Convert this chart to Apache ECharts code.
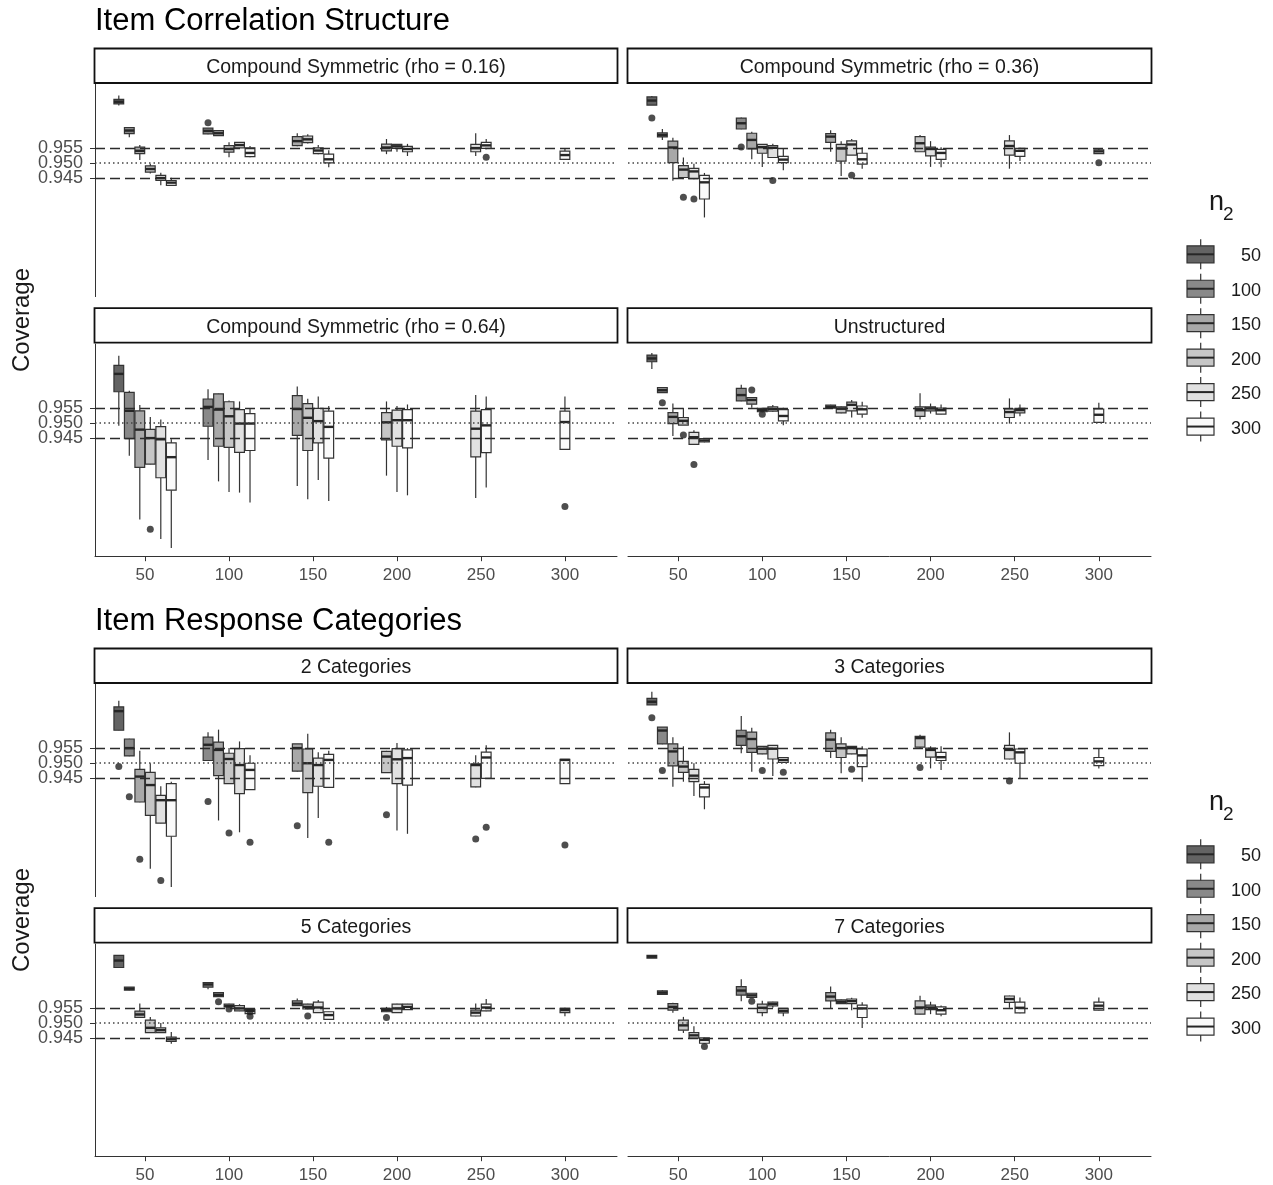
<!DOCTYPE html>
<html>
<head>
<meta charset="utf-8">
<title>Coverage</title>
<script src="https://cdn.jsdelivr.net/npm/echarts@6/dist/echarts.min.js"></script>
<style>
  body { margin: 0; background: #fff; }
  #chart { width: 1273px; height: 1185px; }
</style>
</head>
<body>
<div id="chart"></div>
<script>
//--------------------- Data ---------------------------//
const n1Levels = [50, 100, 150, 200, 250, 300];
const n2Levels = [50, 100, 150, 200, 250, 300];
const yTicksOuter = [0.945, 0.955];
const yTicksMid = [0.950];
const refDashed = [0.945, 0.955];
const refDotted = [0.950];
const figTitles = ['Item Correlation Structure', 'Item Response Categories'];

// rows: [n1, n2, min, q1, median, q3, max]
const boxesCS16 = [
  [50, 50, 0.9691, 0.9696, 0.9703, 0.9711, 0.9724], [50, 100, 0.9586, 0.9598, 0.9608, 0.9618, 0.9618],
  [50, 150, 0.9511, 0.9532, 0.9541, 0.9553, 0.9560], [50, 200, 0.9466, 0.9471, 0.9481, 0.9491, 0.9498],
  [50, 250, 0.9427, 0.9443, 0.9451, 0.9460, 0.9469], [50, 300, 0.9426, 0.9427, 0.9436, 0.9443, 0.9452],
  [100, 100, 0.9596, 0.9597, 0.9607, 0.9616, 0.9616], [100, 150, 0.9590, 0.9591, 0.9599, 0.9608, 0.9609],
  [100, 200, 0.9520, 0.9537, 0.9547, 0.9558, 0.9569], [100, 250, 0.9550, 0.9551, 0.9560, 0.9569, 0.9570],
  [100, 300, 0.9520, 0.9522, 0.9534, 0.9551, 0.9557],
  [150, 150, 0.9556, 0.9558, 0.9573, 0.9588, 0.9599], [150, 200, 0.9565, 0.9568, 0.9579, 0.9590, 0.9596],
  [150, 250, 0.9530, 0.9532, 0.9542, 0.9551, 0.9560], [150, 300, 0.9487, 0.9501, 0.9513, 0.9530, 0.9543],
  [200, 200, 0.9530, 0.9541, 0.9552, 0.9563, 0.9580], [200, 250, 0.9538, 0.9549, 0.9556, 0.9562, 0.9563],
  [200, 300, 0.9524, 0.9538, 0.9547, 0.9556, 0.9564],
  [250, 250, 0.9524, 0.9538, 0.9550, 0.9562, 0.9599], [250, 300, 0.9546, 0.9549, 0.9559, 0.9569, 0.9580],
  [300, 300, 0.9512, 0.9513, 0.9527, 0.9540, 0.9550]
];
const outCS16 = [[100, 100, 0.9634], [250, 300, 0.9520]];

const boxesCS36 = [
  [50, 50, 0.9692, 0.9692, 0.9707, 0.9719, 0.9722], [50, 100, 0.9577, 0.9587, 0.9593, 0.9600, 0.9613],
  [50, 150, 0.9442, 0.9502, 0.9552, 0.9573, 0.9584], [50, 200, 0.9447, 0.9453, 0.9479, 0.9492, 0.9519],
  [50, 250, 0.9447, 0.9449, 0.9473, 0.9483, 0.9498], [50, 300, 0.9321, 0.9382, 0.9437, 0.9460, 0.9468],
  [100, 100, 0.9612, 0.9613, 0.9632, 0.9649, 0.9651], [100, 150, 0.9513, 0.9547, 0.9577, 0.9599, 0.9604],
  [100, 200, 0.9488, 0.9533, 0.9553, 0.9562, 0.9563], [100, 250, 0.9517, 0.9519, 0.9551, 0.9558, 0.9564],
  [100, 300, 0.9477, 0.9502, 0.9512, 0.9523, 0.9549],
  [150, 150, 0.9538, 0.9569, 0.9588, 0.9598, 0.9609], [150, 200, 0.9458, 0.9507, 0.9549, 0.9562, 0.9573],
  [150, 250, 0.9527, 0.9527, 0.9562, 0.9574, 0.9580], [150, 300, 0.9482, 0.9497, 0.9513, 0.9533, 0.9553],
  [200, 200, 0.9537, 0.9538, 0.9566, 0.9588, 0.9593], [200, 250, 0.9488, 0.9524, 0.9547, 0.9553, 0.9573],
  [200, 300, 0.9487, 0.9513, 0.9534, 0.9546, 0.9553],
  [250, 250, 0.9482, 0.9527, 0.9557, 0.9574, 0.9593], [250, 300, 0.9507, 0.9523, 0.9541, 0.9549, 0.9551],
  [300, 300, 0.9531, 0.9532, 0.9539, 0.9544, 0.9549]
];
const outCS36 = [[50, 50, 0.9649], [50, 200, 0.9388], [50, 250, 0.9382], [100, 100, 0.9554],
  [100, 250, 0.9443], [150, 250, 0.9460], [300, 300, 0.9502]];

const boxesCS64 = [
  [50, 50, 0.9491, 0.9603, 0.9662, 0.9690, 0.9722], [50, 100, 0.9392, 0.9448, 0.9540, 0.9601, 0.9606],
  [50, 150, 0.9181, 0.9353, 0.9478, 0.9540, 0.9559], [50, 200, 0.9363, 0.9364, 0.9450, 0.9479, 0.9520],
  [50, 250, 0.9117, 0.9319, 0.9446, 0.9488, 0.9511], [50, 300, 0.9087, 0.9278, 0.9387, 0.9434, 0.9446],
  [100, 100, 0.9378, 0.9489, 0.9553, 0.9579, 0.9611], [100, 150, 0.9307, 0.9423, 0.9544, 0.9596, 0.9597],
  [100, 200, 0.9272, 0.9419, 0.9522, 0.9570, 0.9574], [100, 250, 0.9270, 0.9403, 0.9498, 0.9544, 0.9571],
  [100, 300, 0.9237, 0.9409, 0.9498, 0.9531, 0.9549],
  [150, 150, 0.9292, 0.9459, 0.9546, 0.9590, 0.9620], [150, 200, 0.9248, 0.9409, 0.9517, 0.9564, 0.9580],
  [150, 250, 0.9312, 0.9434, 0.9506, 0.9548, 0.9587], [150, 300, 0.9242, 0.9384, 0.9487, 0.9539, 0.9556],
  [200, 200, 0.9326, 0.9444, 0.9502, 0.9534, 0.9571], [200, 250, 0.9272, 0.9423, 0.9509, 0.9542, 0.9556],
  [200, 300, 0.9261, 0.9418, 0.9509, 0.9544, 0.9561],
  [250, 250, 0.9252, 0.9388, 0.9481, 0.9539, 0.9592], [250, 300, 0.9287, 0.9402, 0.9492, 0.9544, 0.9587],
  [300, 300, 0.9412, 0.9413, 0.9503, 0.9539, 0.9587]
];
const outCS64 = [[50, 200, 0.9149], [300, 300, 0.9224]];

const boxesUN = [
  [50, 50, 0.9678, 0.9702, 0.9713, 0.9724, 0.9731], [50, 100, 0.9599, 0.9600, 0.9608, 0.9617, 0.9617],
  [50, 150, 0.9457, 0.9498, 0.9520, 0.9534, 0.9564], [50, 200, 0.9493, 0.9493, 0.9507, 0.9518, 0.9550],
  [50, 250, 0.9428, 0.9429, 0.9453, 0.9469, 0.9476], [50, 300, 0.9436, 0.9437, 0.9442, 0.9448, 0.9449],
  [100, 100, 0.9572, 0.9573, 0.9592, 0.9614, 0.9626], [100, 150, 0.9550, 0.9562, 0.9576, 0.9584, 0.9585],
  [100, 200, 0.9535, 0.9537, 0.9542, 0.9548, 0.9550], [100, 250, 0.9536, 0.9539, 0.9546, 0.9553, 0.9559],
  [100, 300, 0.9492, 0.9507, 0.9523, 0.9544, 0.9550],
  [150, 150, 0.9548, 0.9549, 0.9553, 0.9559, 0.9560], [150, 200, 0.9532, 0.9533, 0.9547, 0.9553, 0.9554],
  [150, 250, 0.9518, 0.9540, 0.9560, 0.9569, 0.9576], [150, 300, 0.9517, 0.9529, 0.9545, 0.9556, 0.9570],
  [200, 200, 0.9511, 0.9522, 0.9542, 0.9553, 0.9598], [200, 250, 0.9531, 0.9540, 0.9548, 0.9553, 0.9564],
  [200, 300, 0.9528, 0.9529, 0.9542, 0.9549, 0.9561],
  [250, 250, 0.9498, 0.9518, 0.9536, 0.9546, 0.9581], [250, 300, 0.9522, 0.9533, 0.9542, 0.9548, 0.9561],
  [300, 300, 0.9501, 0.9502, 0.9527, 0.9546, 0.9567]
];
const outUN = [[50, 100, 0.9567], [50, 200, 0.9460], [50, 250, 0.9363], [100, 150, 0.9609], [100, 200, 0.9529]];

const boxesCat2 = [
  [50, 50, 0.9608, 0.9609, 0.9672, 0.9686, 0.9706], [50, 100, 0.9523, 0.9524, 0.9550, 0.9580, 0.9581],
  [50, 150, 0.9371, 0.9372, 0.9456, 0.9480, 0.9541], [50, 200, 0.9152, 0.9328, 0.9428, 0.9470, 0.9500],
  [50, 250, 0.9301, 0.9302, 0.9378, 0.9394, 0.9424], [50, 300, 0.9091, 0.9259, 0.9378, 0.9433, 0.9439],
  [100, 100, 0.9508, 0.9509, 0.9561, 0.9586, 0.9602], [100, 150, 0.9311, 0.9459, 0.9544, 0.9570, 0.9611],
  [100, 200, 0.9432, 0.9433, 0.9514, 0.9533, 0.9550], [100, 250, 0.9272, 0.9400, 0.9494, 0.9548, 0.9572],
  [100, 300, 0.9412, 0.9413, 0.9478, 0.9500, 0.9526],
  [150, 150, 0.9473, 0.9474, 0.9550, 0.9564, 0.9564], [150, 200, 0.9253, 0.9403, 0.9500, 0.9547, 0.9597],
  [150, 250, 0.9319, 0.9424, 0.9494, 0.9517, 0.9536], [150, 300, 0.9419, 0.9420, 0.9511, 0.9529, 0.9541],
  [200, 200, 0.9468, 0.9469, 0.9522, 0.9539, 0.9541], [200, 250, 0.9278, 0.9433, 0.9513, 0.9548, 0.9567],
  [200, 300, 0.9267, 0.9428, 0.9517, 0.9544, 0.9550],
  [250, 250, 0.9421, 0.9422, 0.9494, 0.9498, 0.9526], [250, 300, 0.9449, 0.9450, 0.9519, 0.9537, 0.9559],
  [300, 300, 0.9432, 0.9433, 0.9511, 0.9513, 0.9514]
];
const outCat2 = [[50, 50, 0.9489], [50, 100, 0.9389], [50, 150, 0.9183], [50, 250, 0.9113],
  [100, 100, 0.9374], [100, 200, 0.9270], [100, 300, 0.9239], [150, 150, 0.9294], [150, 300, 0.9239],
  [200, 200, 0.9330], [250, 250, 0.9250], [250, 300, 0.9289], [300, 300, 0.9230]];

const boxesCat3 = [
  [50, 50, 0.9692, 0.9693, 0.9703, 0.9714, 0.9736], [50, 100, 0.9563, 0.9564, 0.9608, 0.9619, 0.9619],
  [50, 150, 0.9422, 0.9491, 0.9539, 0.9564, 0.9586], [50, 200, 0.9439, 0.9470, 0.9489, 0.9506, 0.9556],
  [50, 250, 0.9392, 0.9439, 0.9459, 0.9480, 0.9500], [50, 300, 0.9348, 0.9389, 0.9420, 0.9430, 0.9441],
  [100, 100, 0.9533, 0.9559, 0.9589, 0.9609, 0.9656], [100, 150, 0.9472, 0.9536, 0.9580, 0.9603, 0.9617],
  [100, 200, 0.9530, 0.9531, 0.9548, 0.9556, 0.9557], [100, 250, 0.9458, 0.9514, 0.9548, 0.9559, 0.9560],
  [100, 300, 0.9502, 0.9503, 0.9511, 0.9519, 0.9520],
  [150, 150, 0.9517, 0.9539, 0.9578, 0.9600, 0.9611], [150, 200, 0.9467, 0.9519, 0.9550, 0.9564, 0.9586],
  [150, 250, 0.9530, 0.9531, 0.9550, 0.9556, 0.9557], [150, 300, 0.9439, 0.9489, 0.9526, 0.9547, 0.9556],
  [200, 200, 0.9550, 0.9553, 0.9583, 0.9589, 0.9594], [200, 250, 0.9483, 0.9520, 0.9544, 0.9550, 0.9556],
  [200, 300, 0.9478, 0.9509, 0.9520, 0.9536, 0.9556],
  [250, 250, 0.9513, 0.9514, 0.9544, 0.9559, 0.9602], [250, 300, 0.9450, 0.9500, 0.9536, 0.9547, 0.9550],
  [300, 300, 0.9483, 0.9492, 0.9506, 0.9519, 0.9550]
];
const outCat3 = [[50, 50, 0.9650], [50, 100, 0.9476], [100, 200, 0.9476], [100, 300, 0.9470],
  [150, 250, 0.9480], [200, 200, 0.9486], [250, 250, 0.9441]];

const boxesCat5 = [
  [50, 50, 0.9683, 0.9683, 0.9706, 0.9723, 0.9724], [50, 100, 0.9607, 0.9608, 0.9613, 0.9618, 0.9619],
  [50, 150, 0.9517, 0.9518, 0.9528, 0.9539, 0.9564], [50, 200, 0.9467, 0.9468, 0.9484, 0.9509, 0.9520],
  [50, 250, 0.9467, 0.9468, 0.9476, 0.9484, 0.9500], [50, 300, 0.9431, 0.9439, 0.9446, 0.9453, 0.9470],
  [100, 100, 0.9611, 0.9618, 0.9627, 0.9633, 0.9634], [100, 150, 0.9586, 0.9587, 0.9593, 0.9600, 0.9601],
  [100, 200, 0.9552, 0.9553, 0.9556, 0.9562, 0.9563], [100, 250, 0.9539, 0.9540, 0.9548, 0.9557, 0.9562],
  [100, 300, 0.9530, 0.9531, 0.9540, 0.9545, 0.9546],
  [150, 150, 0.9556, 0.9557, 0.9564, 0.9573, 0.9581], [150, 200, 0.9545, 0.9546, 0.9553, 0.9562, 0.9563],
  [150, 250, 0.9533, 0.9534, 0.9551, 0.9569, 0.9576], [150, 300, 0.9511, 0.9512, 0.9526, 0.9537, 0.9538],
  [200, 200, 0.9536, 0.9537, 0.9542, 0.9548, 0.9553], [200, 250, 0.9533, 0.9534, 0.9548, 0.9562, 0.9563],
  [200, 300, 0.9543, 0.9544, 0.9553, 0.9562, 0.9563],
  [250, 250, 0.9522, 0.9523, 0.9534, 0.9542, 0.9564], [250, 300, 0.9539, 0.9540, 0.9551, 0.9562, 0.9579],
  [300, 300, 0.9522, 0.9534, 0.9542, 0.9548, 0.9550]
];
const outCat5 = [[100, 150, 0.9570], [100, 200, 0.9546], [100, 300, 0.9537], [100, 300, 0.9522],
  [150, 200, 0.9523], [200, 200, 0.9518]];

const boxesCat7 = [
  [50, 50, 0.9714, 0.9714, 0.9719, 0.9723, 0.9724], [50, 100, 0.9594, 0.9594, 0.9600, 0.9606, 0.9609],
  [50, 150, 0.9534, 0.9542, 0.9553, 0.9564, 0.9567], [50, 200, 0.9467, 0.9476, 0.9492, 0.9509, 0.9520],
  [50, 250, 0.9449, 0.9450, 0.9459, 0.9468, 0.9489], [50, 300, 0.9432, 0.9433, 0.9444, 0.9451, 0.9452],
  [100, 100, 0.9572, 0.9592, 0.9607, 0.9620, 0.9644], [100, 150, 0.9583, 0.9584, 0.9591, 0.9598, 0.9599],
  [100, 200, 0.9522, 0.9534, 0.9550, 0.9562, 0.9573], [100, 250, 0.9550, 0.9556, 0.9562, 0.9569, 0.9570],
  [100, 300, 0.9522, 0.9533, 0.9540, 0.9548, 0.9549],
  [150, 150, 0.9548, 0.9573, 0.9587, 0.9600, 0.9620], [150, 200, 0.9563, 0.9564, 0.9570, 0.9576, 0.9577],
  [150, 250, 0.9542, 0.9564, 0.9572, 0.9579, 0.9583], [150, 300, 0.9483, 0.9518, 0.9548, 0.9559, 0.9568],
  [200, 200, 0.9528, 0.9529, 0.9551, 0.9573, 0.9590], [200, 250, 0.9529, 0.9544, 0.9551, 0.9559, 0.9570],
  [200, 300, 0.9522, 0.9529, 0.9542, 0.9553, 0.9558],
  [250, 250, 0.9550, 0.9568, 0.9579, 0.9589, 0.9590], [250, 300, 0.9532, 0.9533, 0.9550, 0.9569, 0.9584],
  [300, 300, 0.9540, 0.9542, 0.9557, 0.9569, 0.9584]
];
const outCat7 = [[50, 300, 0.9422], [100, 150, 0.9572]];

//--------------------- Layout & style ---------------------------//
const FONT = '"Liberation Sans", Arial, sans-serif';
const n2Fills = ['#636363', '#898989', '#a8a8a8', '#c6c6c6', '#e1e1e1', '#fafafa'];
const X_MIN = 20.2, X_MAX = 331;
const Y_MIN = 0.906, Y_MAX = 0.976;
const DODGE = 6.25;   // spacing between dodged boxes (x units)
const BOX_W = 5.8;    // box width (x units)
const figTop = [0, 600];
const rowTop = [84.5, 344.2];
const colLeft = [95, 628];
const colWidth = [522, 523];
const GRID_H = 212;

const panels = [
  { title: 'Compound Symmetric (rho = 0.16)', boxes: boxesCS16, outliers: outCS16, fig: 0, row: 0, col: 0 },
  { title: 'Compound Symmetric (rho = 0.36)', boxes: boxesCS36, outliers: outCS36, fig: 0, row: 0, col: 1 },
  { title: 'Compound Symmetric (rho = 0.64)', boxes: boxesCS64, outliers: outCS64, fig: 0, row: 1, col: 0 },
  { title: 'Unstructured', boxes: boxesUN, outliers: outUN, fig: 0, row: 1, col: 1 },
  { title: '2 Categories', boxes: boxesCat2, outliers: outCat2, fig: 1, row: 0, col: 0 },
  { title: '3 Categories', boxes: boxesCat3, outliers: outCat3, fig: 1, row: 0, col: 1 },
  { title: '5 Categories', boxes: boxesCat5, outliers: outCat5, fig: 1, row: 1, col: 0 },
  { title: '7 Categories', boxes: boxesCat7, outliers: outCat7, fig: 1, row: 1, col: 1 }
];

//--------------------- Functions ---------------------------//
// position_dodge: boxes of one n1 group are spread around n1
function dodgeX(n1, n2) {
  const present = n2Levels.filter(v => v >= n1);
  const i = present.indexOf(n2);
  return n1 + (i - (present.length - 1) / 2) * DODGE;
}

function renderBox(params, api) {
  const x = api.value(0);
  const lo = api.coord([x, api.value(1)]);
  const q1 = api.coord([x, api.value(2)]);
  const md = api.coord([x, api.value(3)]);
  const q3 = api.coord([x, api.value(4)]);
  const hi = api.coord([x, api.value(5)]);
  const w = api.size([BOX_W, 0])[0];
  const line = { stroke: '#333', lineWidth: 1.2 };
  return {
    type: 'group',
    children: [
      { type: 'line', shape: { x1: hi[0], y1: hi[1], x2: q3[0], y2: q3[1] }, style: line },
      { type: 'line', shape: { x1: q1[0], y1: q1[1], x2: lo[0], y2: lo[1] }, style: line },
      { type: 'rect', shape: { x: q3[0] - w / 2, y: q3[1], width: w, height: q1[1] - q3[1] },
        style: { fill: n2Fills[api.value(6)], stroke: '#333', lineWidth: 1.2 } },
      { type: 'line', shape: { x1: md[0] - w / 2, y1: md[1], x2: md[0] + w / 2, y2: md[1] },
        style: { stroke: '#262626', lineWidth: 2.4 } }
    ]
  };
}

function refLines() {
  return {
    silent: true, symbol: ['none', 'none'], label: { show: false }, animation: false, precision: 4,
    data: refDashed.map(v => ({ yAxis: v, lineStyle: { type: [10, 5], color: '#2b2b2b', width: 1.4 } }))
      .concat(refDotted.map(v => ({ yAxis: v, lineStyle: { type: [1.5, 3], color: '#444', width: 1.5 } })))
  };
}

// value axis for coverage; the tick labels overlap, so they are split over two stacked axes
function coverageAxis(gridIndex, show, ticks) {
  return {
    gridIndex, type: 'value', position: 'left', offset: 0, min: Y_MIN, max: Y_MAX, splitLine: { show: false },
    axisLine: { show: show, lineStyle: { color: '#333', width: 1 } },
    axisTick: { show: show, length: 5, customValues: ticks, lineStyle: { color: '#333' } },
    axisLabel: { show: show, customValues: ticks, margin: 12, hideOverlap: false,
      showMinLabel: true, showMaxLabel: true,
      formatter: v => v.toFixed(3), color: '#4d4d4d', fontSize: 18, fontFamily: FONT }
  };
}

//--------------------- Build option ---------------------------//
const grid = [], xAxis = [], yAxis = [], series = [], graphic = [];

panels.forEach((p, k) => {
  const top = figTop[p.fig] + rowTop[p.row];
  const isLeft = p.col === 0;
  const isBottom = p.row === 1;
  grid.push({ left: colLeft[p.col], top: top, width: colWidth[p.col], height: GRID_H });

  xAxis.push({
    gridIndex: k, type: 'value', min: X_MIN, max: X_MAX, splitLine: { show: false },
    axisLine: { show: isBottom, onZero: false, lineStyle: { color: '#333', width: 1 } },
    axisTick: { show: isBottom, length: 5, customValues: n1Levels, lineStyle: { color: '#333' } },
    axisLabel: { show: isBottom, customValues: n1Levels, margin: 11, color: '#4d4d4d', fontSize: 17, fontFamily: FONT }
  });
  const yIndex = yAxis.length;
  yAxis.push(coverageAxis(k, isLeft, yTicksOuter));
  if (isLeft) yAxis.push(coverageAxis(k, true, yTicksMid));

  series.push({
    type: 'custom', xAxisIndex: k, yAxisIndex: yIndex, z: 2, renderItem: renderBox,
    encode: { x: 0, y: [1, 2, 3, 4, 5] },
    data: p.boxes.map(b => [dodgeX(b[0], b[1]), b[2], b[3], b[4], b[5], b[6], n2Levels.indexOf(b[1])])
  });
  series.push({
    type: 'scatter', xAxisIndex: k, yAxisIndex: yIndex, z: 3, symbolSize: 7,
    itemStyle: { color: '#222' },
    data: p.outliers.map(o => [dodgeX(o[0], o[1]), o[2]]),
    markLine: refLines()
  });

  // facet strip
  const sx = colLeft[p.col] - 0.5;
  const sTop = top - 36;
  graphic.push({ type: 'rect', shape: { x: sx, y: sTop, width: colWidth[p.col] + 1, height: 34.5 },
    style: { fill: '#fff', stroke: '#111', lineWidth: 1.8 } });
  graphic.push({ type: 'text', x: sx + (colWidth[p.col] + 1) / 2, y: sTop + 19.5,
    style: { text: p.title, font: '19.5px ' + FONT, fill: '#1a1a1a', textAlign: 'center', textVerticalAlign: 'middle' } });
});

figTitles.forEach((t, f) => {
  const off = figTop[f];
  graphic.push({ type: 'text', x: 95, y: 21 + off,
    style: { text: t, font: '31px ' + FONT, fill: '#000', textAlign: 'left', textVerticalAlign: 'middle' } });
  graphic.push({ type: 'text', x: 22, y: 320 + off, rotation: Math.PI / 2,
    style: { text: 'Coverage', font: '24px ' + FONT, fill: '#1a1a1a', textAlign: 'center', textVerticalAlign: 'middle' } });

  // legend (n2)
  graphic.push({ type: 'text', x: 1209, y: 216.5 + off,
    style: { text: 'n', font: '27px ' + FONT, fill: '#1a1a1a', textAlign: 'left', textVerticalAlign: 'bottom' } });
  graphic.push({ type: 'text', x: 1223, y: 224 + off,
    style: { text: '2', font: '19px ' + FONT, fill: '#1a1a1a', textAlign: 'left', textVerticalAlign: 'bottom' } });
  n2Levels.forEach((lv, i) => {
    const cy = 254.3 + i * 34.45 + off;
    graphic.push({ type: 'line', shape: { x1: 1200.7, y1: cy - 15, x2: 1200.7, y2: cy + 15 },
      style: { stroke: '#333', lineWidth: 1.2 } });
    graphic.push({ type: 'rect', shape: { x: 1187, y: cy - 8.5, width: 27, height: 17 },
      style: { fill: n2Fills[i], stroke: '#333', lineWidth: 1.2 } });
    graphic.push({ type: 'line', shape: { x1: 1187, y1: cy, x2: 1214, y2: cy },
      style: { stroke: '#262626', lineWidth: 2 } });
    graphic.push({ type: 'text', x: 1261, y: cy + 2,
      style: { text: String(lv), font: '18px ' + FONT, fill: '#1a1a1a', textAlign: 'right', textVerticalAlign: 'middle' } });
  });
});

//--------------------- Main ---------------------------//
const myChart = echarts.init(document.getElementById('chart'));
myChart.setOption({
  animation: false,
  backgroundColor: '#fff',
  grid, xAxis, yAxis, series, graphic
});
</script>
</body>
</html>
